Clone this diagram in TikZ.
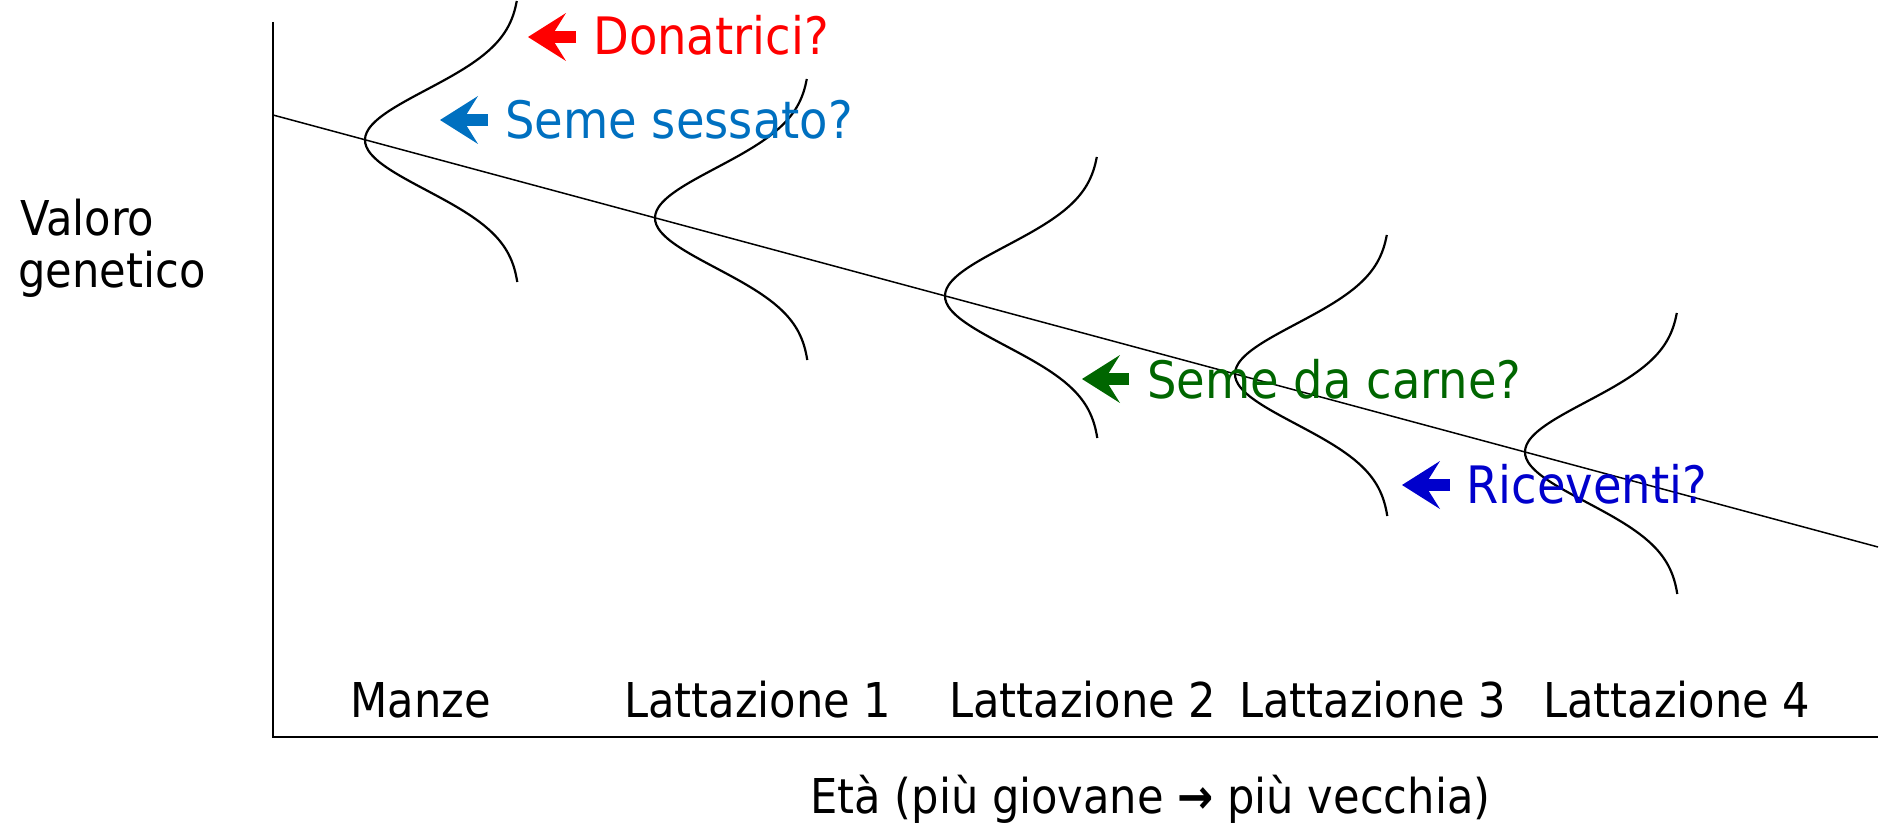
\documentclass[tikz,border=0pt]{standalone}
\usepackage{xcolor}
\usepackage{fontspec}
\setmainfont{DejaVu Sans Condensed}
\usepackage{tikz}
\usetikzlibrary{arrows.meta}
\usetikzlibrary{calc}

\definecolor{rossodon}{RGB}{255,0,0}
\definecolor{bluseme}{RGB}{0,112,192}
\definecolor{verdecarne}{RGB}{0,102,0}
\definecolor{bluric}{RGB}{0,0,204}

\begin{document}
\begin{tikzpicture}[x=0.5pt, y=-0.5pt,
    asse/.style={line width=1pt},
    retta/.style={line width=0.75pt},
    campana/.style={line width=1.1pt},
    testo/.style={inner sep=0pt, anchor=base west, font=\fontsize{24pt}{28pt}\selectfont},
    etich/.style={inner sep=0pt, anchor=base west, font=\fontsize{25.8pt}{30pt}\selectfont},
    freccia/.style={line width=6pt, -{Stealth[length=19pt, width=24pt, inset=7.5pt, line width=0pt]}}]
    \useasboundingbox (0,0) rectangle (1884,824);
    \coordinate (Ytop) at (273,22);
    \coordinate (Xend) at (1878,737);
    \draw[asse] (Ytop) |- (Xend);
    \coordinate (R0) at (273,115);
    \coordinate (R1) at (1878,547);
    \draw[retta] (R0) -- (R1);
    \foreach \i in {0,...,4}
      \draw[campana] plot[domain=-139:142, samples=80, smooth]
        ({365+290*\i+155*(1-exp(-0.5*(\x/50)^2))}, {140+78*\i+\x});
    \node[testo] (valoro) at (20,235) {Valoro};
    \node[testo] (genetico) at (18,287) {genetico};
    \node[testo] (manze) at (350,717) {Manze};
    \node[testo] (latt1) at (624,717) {Lattazione 1};
    \node[testo] (latt2) at (949,717) {Lattazione 2};
    \node[testo] (latt3) at (1239,717) {Lattazione 3};
    \node[testo] (latt4) at (1543,717) {Lattazione 4};
    \node[testo] (eta) at (810,813) {Età (più giovane \textbf{→} più vecchia)};
    \node[etich, text=rossodon] (donatrici) at (593,55) {Donatrici?};
    \node[etich, text=bluseme] (sessato) at (505,139) {Seme sessato?};
    \node[etich, text=verdecarne] (carne) at (1147,398) {Seme da carne?};
    \node[etich, text=bluric] (riceventi) at (1466,503) {Riceventi?};
    \coordinate (donA) at (576,37);
    \coordinate (donB) at (528,37);
    \coordinate (sesA) at (488,120);
    \coordinate (sesB) at (440,120);
    \coordinate (carA) at (1129,379);
    \coordinate (carB) at (1082,379);
    \coordinate (ricA) at (1450,485);
    \coordinate (ricB) at (1402,485);
    \path [freccia, color=rossodon] (donA) edge (donB);
    \path [freccia, color=bluseme] (sesA) edge (sesB);
    \path [freccia, color=verdecarne] (carA) edge (carB);
    \path [freccia, color=bluric] (ricA) edge (ricB);
\end{tikzpicture}
\end{document}
